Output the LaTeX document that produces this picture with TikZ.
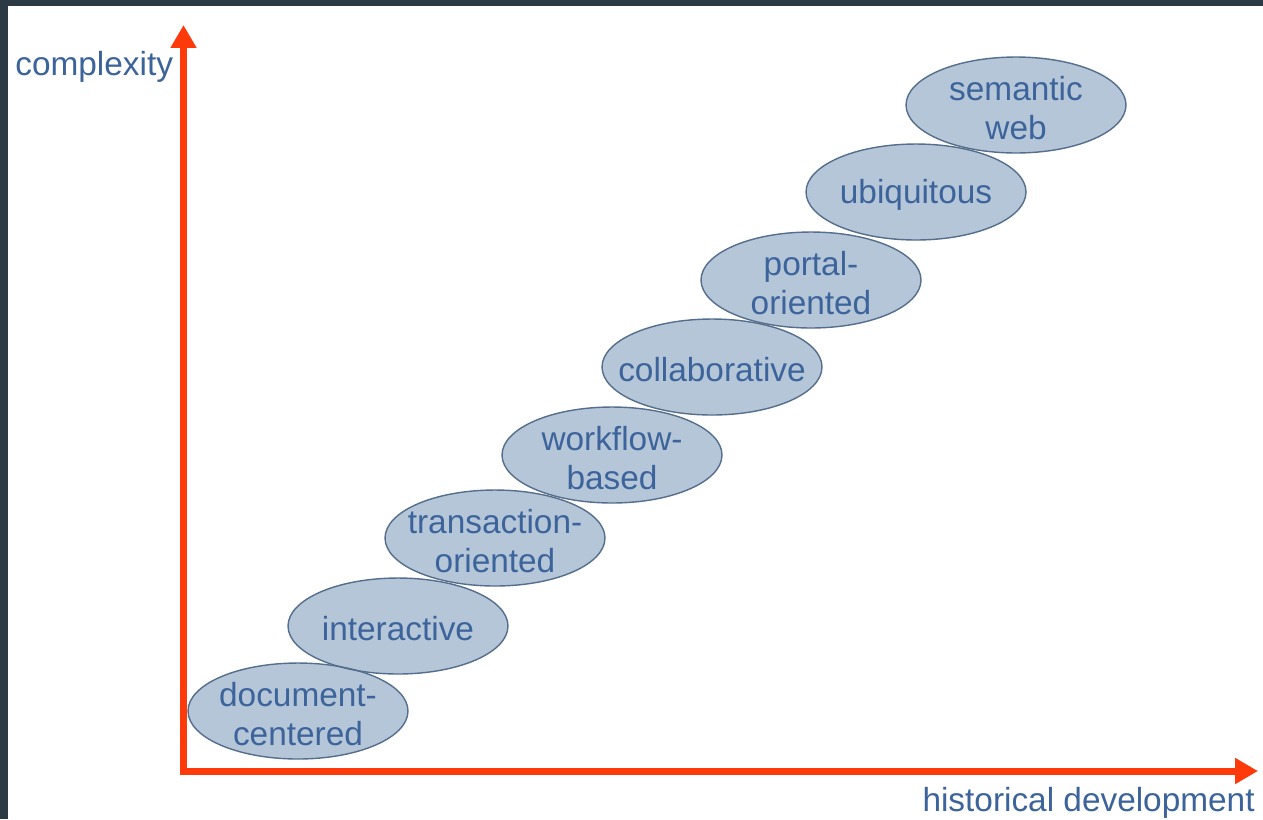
\documentclass[tikz,border=0pt]{standalone}
\usepackage{fontspec}
\setmainfont{Liberation Sans}
\usetikzlibrary{shapes.geometric,arrows.meta}
\definecolor{axisred}{RGB}{255,58,10}
\definecolor{framedark}{RGB}{43,58,68}
\definecolor{stagefill}{RGB}{180,198,216}
\definecolor{stageline}{RGB}{85,110,140}
\definecolor{textblue}{RGB}{60,100,155}
\begin{document}
\begin{tikzpicture}[x=0.02cm,y=-0.02cm,
    stagetext/.style={text=textblue,align=center,inner sep=0pt,yshift=-1.7pt,font=\fontsize{19}{22}\selectfont},
    stage/.style={ellipse,draw=stageline,line width=0.8pt,minimum width=4.4cm,minimum height=1.92cm,
        inner sep=0pt,label={[stagetext]center:{#1}}},
    axislabel/.style={text=textblue,inner sep=0pt,font=\fontsize{19}{22}\selectfont},
    axis/.style={axisred,line width=4pt,{Triangle[length=13pt,width=14pt]}-{Triangle[length=13pt,width=14pt]}}]
    \fill[framedark] (0,0) rectangle (1263,819);
    \fill[white] (8,6) rectangle (1263,819);
    % ellipse fills first, outlines come with the nodes
    \foreach \cx/\cy in {298/711,398/626,495/538,612/455,712/367,811/280,916/192,1016/105}
        \fill[stagefill] (\cx,\cy) ellipse (110 and 48);
    \node[stage={document-\\centered}] (doc) at (298,711) {};
    \node[stage={interactive}] (inter) at (398,626) {};
    \node[stage={transaction-\\oriented}] (trans) at (495,538) {};
    \node[stage={workflow-\\based}] (work) at (612,455) {};
    \node[stage={collaborative}] (collab) at (712,367) {};
    \node[stage={portal-\\oriented}] (portal) at (811,280) {};
    \node[stage={ubiquitous}] (ubiq) at (916,192) {};
    \node[stage={semantic\\web}] (sem) at (1016,105) {};
    % axes
    \coordinate (origin) at (183.5,771);
    \coordinate (ytip) at (183.5,25);
    \coordinate (xtip) at (1258,771);
    \draw[axis] (ytip) -- (origin) -- (xtip);
    \node[axislabel,anchor=base west] (ylab) at (15,75) {complexity};
    \node[axislabel,anchor=base east] (xlab) at (1255,811) {historical development};
\end{tikzpicture}
\end{document}
